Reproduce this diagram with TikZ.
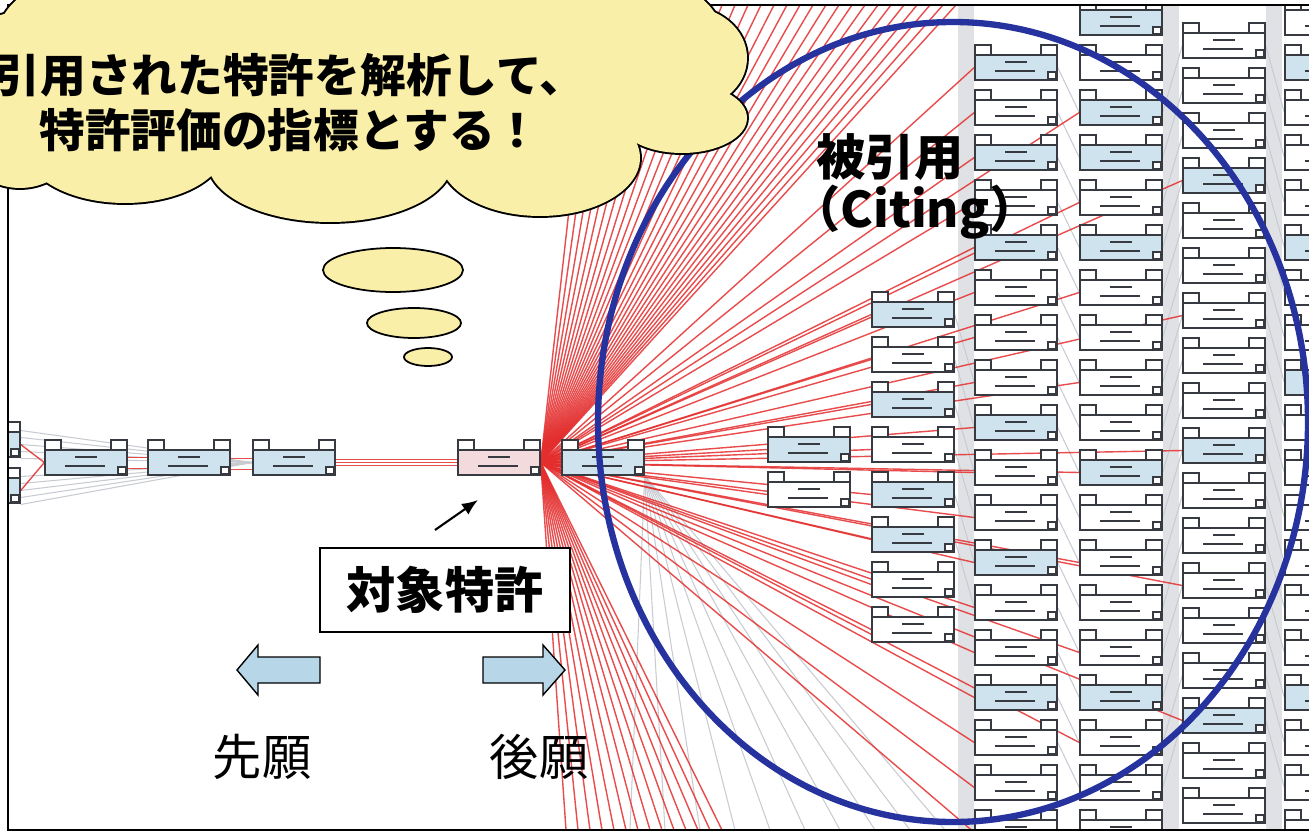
\documentclass[tikz,border=0pt]{standalone}
\usepackage{fontspec}
\newfontfamily\jpfont{Noto Sans CJK JP}
\usetikzlibrary{arrows.meta,calc}
\pgfdeclarelayer{bg}
\pgfsetlayers{bg,main}

\definecolor{boxblue}{RGB}{207,227,238}
\definecolor{boxpink}{RGB}{243,218,220}
\definecolor{citered}{RGB}{228,45,45}
\definecolor{refgray}{RGB}{200,204,210}
\definecolor{bandgray}{RGB}{224,225,228}
\definecolor{cloudyellow}{RGB}{250,239,168}
\definecolor{arrowblue}{RGB}{183,214,231}
\definecolor{ringblue}{RGB}{38,50,158}
\definecolor{inkgray}{RGB}{55,58,64}

% one patent card: name, left x, top y, fill
\newcommand{\patentbox}[4]{%
  \draw[patent tab] (#2,#3) rectangle ++(16,10);
  \draw[patent tab] (#2+66,#3) rectangle ++(16,10);
  \node[patent body,fill=#4] (#1) at (#2+41,#3+22.5) {};
  \draw[patent tab] (#2+73,#3+27) rectangle ++(8,7);
  \draw[patent ink] (#2+30,#3+17) -- ++(22,0);
  \draw[patent ink,line width=0.9pt] (#2+20,#3+26) -- ++(40,0);
}

\begin{document}
\begin{tikzpicture}[x=0.02cm,y=-0.02cm,
  patent body/.style={rectangle,draw=inkgray,line width=0.8pt,minimum width=1.64cm,minimum height=0.5cm,inner sep=0pt},
  patent tab/.style={draw=inkgray,line width=0.8pt,fill=white},
  patent ink/.style={draw=inkgray,line width=1.6pt},
  cite/.style={draw=citered,line width=0.8pt,opacity=0.85},
  ref line/.style={draw=refgray,line width=0.6pt},
  blockarrow/.style={draw=black,line width=0.8pt,fill=arrowblue},
  pointer/.style={-{Latex[length=0.32cm,width=0.26cm]},line width=1.2pt},
  ring/.style={draw=ringblue,line width=3.6pt},
  lobe/.style={draw=black,line width=2.2pt},
  bubble/.style={draw=black,line width=1pt,fill=cloudyellow},
  big text/.style={font=\jpfont\fontsize{28}{32}\selectfont},
  cloud text/.style={font=\jpfont\bfseries\fontsize{26}{30}\selectfont}]

  \useasboundingbox (0,0) rectangle (1309,835);

  % patent cards
  \begin{scope}
    \clip (8,5) rectangle (1309,830);
    \patentbox{l1}{-62}{422}{boxblue}
    \patentbox{l2}{-62}{468}{boxblue}
    \patentbox{p1}{45}{440}{boxblue}
    \patentbox{p2}{148}{440}{boxblue}
    \patentbox{p3}{253}{440}{boxblue}
    \patentbox{target}{458}{440}{boxpink}
    \patentbox{n1}{562}{440}{boxblue}
    \patentbox{m0}{768}{427}{boxblue}
    \patentbox{m1}{768}{472}{white}
    \foreach \f [count=\k from 0] in {boxblue,white,boxblue,white,boxblue,boxblue,white,white}
      {\patentbox{a\k}{872}{292+45*\k}{\f}}
    \foreach \f [count=\k from 0] in {boxblue,white,boxblue,white,boxblue,white,white,white,boxblue,
        white,white,boxblue,white,white,boxblue,white,white,white}
      {\patentbox{b\k}{975}{45+45*\k}{\f}}
    \foreach \f [count=\k from 0] in {boxblue,white,boxblue,boxblue,white,boxblue,white,white,white,
        white,boxblue,white,white,white,white,boxblue,white,white,white}
      {\patentbox{c\k}{1080}{45*\k}{\f}}
    \foreach \f [count=\k from 0] in {white,white,white,boxblue,white,white,white,white,white,
        boxblue,white,white,white,white,white,boxblue,white,white}
      {\patentbox{d\k}{1183}{23+45*\k}{\f}}
    \foreach \f [count=\k from 0] in {white,boxblue,white,white,white,boxblue,white,white,boxblue,
        white,white,white,white,white,white,boxblue,white,white,white}
      {\patentbox{e\k}{1285}{45*\k}{\f}}
  \end{scope}

  % links behind the cards
  \begin{pgfonlayer}{bg}
    \fill[white] (0,0) rectangle (1309,835);
    \begin{scope}
      \clip (8,5) rectangle (1309,830);
      \foreach \x in {958,1163,1266} \fill[bandgray] (\x,5) rectangle ++(16,825);
      \foreach \d in {-14,-7,0,7,14} {
        \draw[ref line] ($(l1.east)+(0,\d)$) -- (p3.west);
        \draw[ref line] ($(l2.east)+(0,\d)$) -- (p3.west);
      }
      \foreach \k in {0,...,15} {
        \pgfmathtruncatemacro\j{\k+2}
        \draw[ref line] (b\k.east) -- (c\j.west);
        \draw[ref line] (c\j.east) -- (d\k.west);
        \draw[ref line] (d\k.east) -- (e\j.west);
      }
      \foreach \k in {0,...,5} {\pgfmathtruncatemacro\j{\k+7} \draw[ref line] (a\k.east) -- (b\j.west);}
      \foreach \k in {0,...,9} {\coordinate (g\k) at (630+35*\k,830); \draw[ref line] (n1.south east) -- (g\k);}
      % citing patents
      \draw[cite] (l1.east) -- (p1.west);
      \draw[cite] (l2.east) -- (p1.west);
      \draw[cite] ($(p1.east)+(0,-5)$) -- ($(p2.west)+(0,-5)$);
      \draw[cite] ($(p1.east)+(0,6)$) -- ($(p2.west)+(0,6)$);
      \draw[cite] ($(p2.east)+(0,-4)$) -- ($(p3.west)+(0,-4)$);
      \draw[cite] ($(p2.east)+(0,7)$) -- ($(p3.west)+(0,7)$);
      \foreach \d in {-3,0,3} \draw[cite] ($(p3.east)+(0,\d)$) -- ($(target.west)+(0,\d)$);
      \foreach \k in {0,...,28} {\coordinate (t\k) at (592+13*\k,5); \draw[cite] (target.east) -- (t\k);}
      \foreach \k in {0,...,13} {\coordinate (u\k) at (566+12*\k,830); \draw[cite] (target.east) -- (u\k);}
      \foreach \k in {0,...,7} \draw[cite] (target.east) -- (a\k.west);
      \foreach \k in {0,...,17} \draw[cite] (target.east) -- (b\k.west);
      \foreach \k in {2,4,...,16} \draw[cite] (target.east) -- (c\k.west);
      \foreach \k in {3,6,...,15} \draw[cite] (target.east) -- (d\k.west);
      \draw[cite] (target.east) -- (m0.west);
      \draw[cite] (target.east) -- (m1.west);
      \draw[cite] (target.east) -- (n1.west);
    \end{scope}
  \end{pgfonlayer}

  \draw[line width=1.1pt] (8,5) rectangle (1330,830);

  % labels
  \node[big text,draw,fill=white,line width=1pt,minimum width=5cm,minimum height=1.68cm] (subject) at (445,590) {\bfseries 対象特許};
  \coordinate (ptr) at (435,530);
  \coordinate (ptrtip) at (478,500);
  \draw[pointer] (ptr) -- (ptrtip);
  \draw[blockarrow] (320,657) -- (258,657) -- (258,645) -- (237,670) -- (258,695) -- (258,683) -- (320,683) -- cycle;
  \draw[blockarrow] (483,657) -- (543,657) -- (543,645) -- (565,670) -- (543,695) -- (543,683) -- (483,683) -- cycle;
  \node[big text] (prior) at (262,757) {先願};
  \node[big text] (later) at (539,757) {後願};

  % citing ring
  \draw[ring] (953,422) ellipse [x radius=355,y radius=400];
  \node[big text] (citing1) at (890,157) {\bfseries 被引用};
  \node[big text] (citing2) at (915,212) {\bfseries （Citing）};

  % thought cloud
  \foreach \cx/\cy/\rx/\ry in {20/100/75/88,125/148/100/55,330/162/122/60,540/158/100/58,
      682/118/65/35,685/58/62/52,360/30/360/100,380/90/300/78}
    \draw[lobe] (\cx,\cy) ellipse [x radius=\rx,y radius=\ry];
  \foreach \cx/\cy/\rx/\ry in {20/100/75/88,125/148/100/55,330/162/122/60,540/158/100/58,
      682/118/65/35,685/58/62/52,360/30/360/100,380/90/300/78}
    \fill[cloudyellow] (\cx,\cy) ellipse [x radius=\rx,y radius=\ry];
  \draw[bubble] (393,270) ellipse [x radius=70,y radius=22];
  \draw[bubble] (414,323) ellipse [x radius=47,y radius=15];
  \draw[bubble] (428,357) ellipse [x radius=24,y radius=9];
  \node[cloud text] (idea1) at (290,75) {引用された特許を解析して、};
  \node[cloud text] (idea2) at (290,130) {特許評価の指標とする！};
\end{tikzpicture}
\end{document}
